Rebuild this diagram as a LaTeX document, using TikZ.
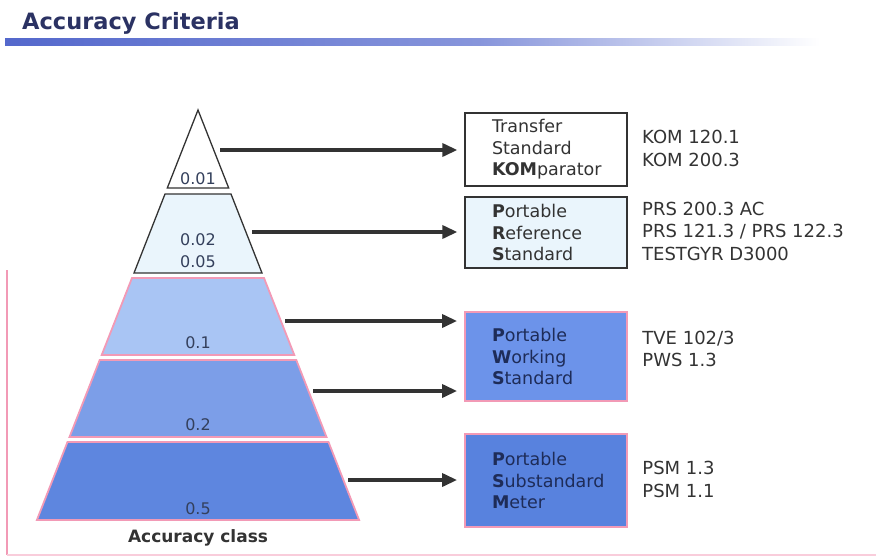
\documentclass[tikz,border=0pt]{standalone}
\usepackage{fontspec}
\setmainfont{DejaVu Sans}
\usetikzlibrary{positioning, arrows.meta, calc}
\definecolor{titlenavy}{HTML}{2B3263}
\definecolor{barblue}{HTML}{5468CC}
\definecolor{edgegray}{HTML}{333333}
\definecolor{pinkline}{HTML}{F29AB6}
\definecolor{layerpale}{HTML}{EAF5FC}
\definecolor{layerlight}{HTML}{A9C5F4}
\definecolor{layermid}{HTML}{7C9EE8}
\definecolor{layerdeep}{HTML}{5E86DF}
\definecolor{boxmid}{HTML}{6C93EA}
\definecolor{boxdeep}{HTML}{5882DE}
\definecolor{labelnavy}{HTML}{34405C}
\definecolor{boxnavy}{HTML}{1E2C58}
\tikzset{
  darklayer/.style={draw=edgegray, line width=1.3pt},
  pinklayer/.style={draw=pinkline, line width=1.8pt},
  stdbox/.style={rectangle, minimum width=162pt, text width=108pt, inner xsep=27pt, align=left, font=\fontsize{17.5}{21.5}\selectfont, text=edgegray},
  typelist/.style={anchor=west, align=left, font=\fontsize{18}{22.5}\selectfont, text=edgegray},
  classlabel/.style={font=\fontsize{16}{22}\selectfont, text=labelnavy, align=center},
  arrow/.style={line width=3.4pt, draw=edgegray, -{Triangle[length=15pt,width=13pt]}, shorten >=7pt}
}
\begin{document}
\begin{tikzpicture}[x=1pt, y=-1pt]
    \useasboundingbox (0,0) rectangle (876,557);

    % Titel
    \node (title) [anchor=base west, font=\fontsize{22.5}{25}\selectfont\bfseries, text=titlenavy, inner sep=0pt] at (22,29) {Accuracy Criteria};
    \shade [left color=barblue, right color=barblue!70] (5,38) rectangle (480,45);
    \shade [left color=barblue!70, right color=white] (480,38) rectangle (820,45);

    % Rahmen
    \draw [pinkline, line width=1.5pt] (7,270) -- (7,555);
    \draw [pinkline!50, line width=1.2pt] (7,555) -- (876,555);

    % Pyramide
    \filldraw [darklayer, fill=white] (198,110) -- (228.7,188) -- (167.3,188) -- cycle;
    \filldraw [darklayer, fill=layerpale] (165,194) -- (231,194) -- (262,273) -- (134,273) -- cycle;
    \filldraw [pinklayer, fill=layerlight] (132,278) -- (264,278) -- (294.3,355) -- (101.7,355) -- cycle;
    \filldraw [pinklayer, fill=layermid] (99.7,360) -- (296.3,360) -- (326.5,437) -- (69.5,437) -- cycle;
    \filldraw [pinklayer, fill=layerdeep] (67.5,442) -- (328.5,442) -- (359.1,520) -- (36.9,520) -- cycle;

    \node (c001) [classlabel] at (198,179) {0.01};
    \node (c002) [classlabel] at (198,251) {0.02\\0.05};
    \node (c01) [classlabel] at (198,343) {0.1};
    \node (c02) [classlabel] at (198,425) {0.2};
    \node (c05) [classlabel] at (198,509) {0.5};
    \node (axis) [font=\fontsize{17}{20}\selectfont\bfseries, text=edgegray] at (198,538) {Accuracy class};

    % Geraete
    \node (kom) [stdbox, draw=edgegray, line width=1.3pt, fill=white, minimum height=73pt] at (546,149.5)
    {Transfer\\Standard\\\textbf{KOM}parator};
    \node (prs) [stdbox, draw=edgegray, line width=1.3pt, fill=layerpale, minimum height=71pt] at (546,232.5)
    {\textbf{P}ortable\\\textbf{R}eference\\\textbf{S}tandard};
    \node (pws) [stdbox, draw=pinkline, line width=1.8pt, fill=boxmid, text=boxnavy, minimum height=89pt] at (546,356.5)
    {\textbf{P}ortable\\\textbf{W}orking\\\textbf{S}tandard};
    \node (psm) [stdbox, draw=pinkline, line width=1.8pt, fill=boxdeep, text=boxnavy, minimum height=93pt] at (546,480.5)
    {\textbf{P}ortable\\\textbf{S}ubstandard\\\textbf{M}eter};

    % Typen
    \node (komlist) [typelist, right=11pt of kom.east, yshift=1pt] {KOM 120.1\\KOM 200.3};
    \node (prslist) [typelist, right=11pt of prs.east, yshift=1.5pt] {PRS 200.3 AC\\PRS 121.3 / PRS 122.3\\TESTGYR D3000};
    \node (pwslist) [typelist, right=11pt of pws.east, yshift=7.5pt] {TVE 102/3\\PWS 1.3};
    \node (psmlist) [typelist, right=11pt of psm.east, yshift=1pt] {PSM 1.3\\PSM 1.1};

    % Pfeile
    \coordinate (s1) at (220,150);
    \coordinate (s2) at (252,232);
    \coordinate (s3) at (285,321);
    \coordinate (s4) at (313,391);
    \coordinate (s5) at (348,480);
    \draw [arrow] (s1) -- (s1 -| kom.west);
    \draw [arrow] (s2) -- (s2 -| prs.west);
    \draw [arrow] (s3) -- (s3 -| pws.west);
    \draw [arrow] (s4) -- (s4 -| pws.west);
    \draw [arrow] (s5) -- (s5 -| psm.west);

\end{tikzpicture}
\end{document}
